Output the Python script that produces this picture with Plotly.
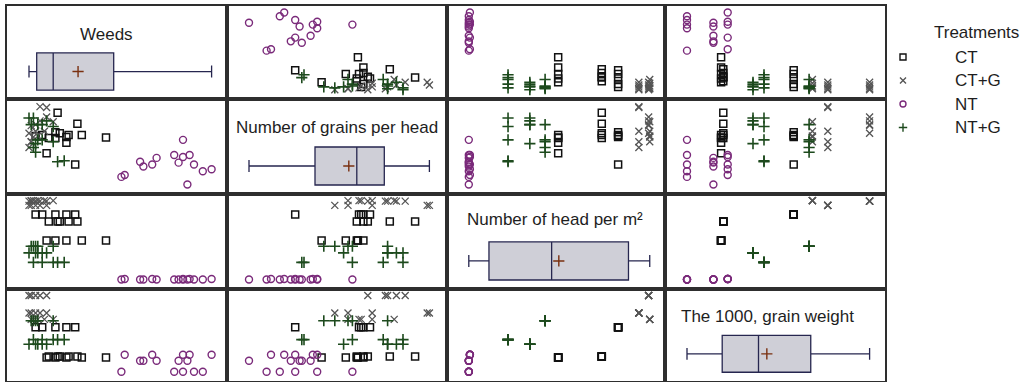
import numpy as np
import plotly.graph_objects as go

TREATMENTS = ["CT", "CT+G", "NT", "NT+G"]
VARIABLES = ["Weeds", "Number of grains per head", "Number of head per m²", "The 1000, grain weight"]
SAMPLES_PER_PLOT = 5

# Sample-level measurements: 3 plots per treatment, 5 samples per plot
WEEDS_CT = [62, 54, 44, 32, 26, 90, 36, 68, 54, 44, 64, 46, 56, 38, 48]
WEEDS_CTG = [36, 30, 26, 22, 20, 30, 36, 26, 22, 20, 42, 34, 28, 24, 22]
WEEDS_NT = [160, 152, 170, 178, 104, 164, 156, 124, 121, 136, 186, 166, 160, 132, 107]
WEEDS_NTG = [26, 24, 42, 28, 22, 52, 46, 32, 42, 24, 26, 36, 32, 20, 28]

GRAINS_CT = [32.4, 44.0, 46.0, 44.8, 44.4, 43.8, 37.2, 44.8, 41.6, 43.6, 49.6, 54.2, 44.8, 43.6, 45.6]
GRAINS_CTG = [52.4, 50.8, 49.2, 48.8, 45.6, 56.8, 56.4, 46.4, 42.0, 39.6, 50.4, 46.4, 44.4, 44.0, 42.0]
GRAINS_NT = [42.8, 36.4, 32.4, 29.6, 27.2, 24.0, 33.2, 31.6, 33.6, 35.2, 30.4, 36.4, 35.6, 32.4, 28.0]
GRAINS_NTG = [37.6, 39.6, 42.0, 42.8, 49.2, 34.0, 33.6, 42.8, 48.4, 52.0, 41.2, 50.8, 49.2, 52.0, 49.2]

# Plot-level measurements (one value per plot)
HEADS_CT = [514, 404, 484]
HEADS_CTG = [570, 552, 572]
HEADS_NT = [240, 240, 242]
HEADS_NTG = [380, 312, 352]

TGW_CT = [41.7, 35.1, 35.3]
TGW_CTG = [48.6, 44.8, 43.4]
TGW_NT = [32.0, 34.4, 35.7]
TGW_NTG = [43.1, 39.0, 38.0]

AXIS_RANGES = [[0, 200], [20, 60], [200, 600], [30, 50]]

weeds = [WEEDS_CT, WEEDS_CTG, WEEDS_NT, WEEDS_NTG]
grains = [GRAINS_CT, GRAINS_CTG, GRAINS_NT, GRAINS_NTG]
heads = [np.repeat(h, SAMPLES_PER_PLOT) for h in (HEADS_CT, HEADS_CTG, HEADS_NT, HEADS_NTG)]
tgw = [np.repeat(t, SAMPLES_PER_PLOT) for t in (TGW_CT, TGW_CTG, TGW_NT, TGW_NTG)]
columns = [weeds, grains, heads, tgw]

MARKER_STYLE = {
    "CT": dict(symbol="square-open", size=7, color="#111111", line=dict(width=1.5)),
    "CT+G": dict(symbol="x-thin-open", size=7, color="#555555", line=dict(width=1.3)),
    "NT": dict(symbol="circle-open", size=7, color="#7a2a7a", line=dict(width=1.4)),
    "NT+G": dict(symbol="cross-thin-open", size=8, color="#1d4a1d", line=dict(width=1.6)),
}

# Page geometry (pixels)
FIG_W, FIG_H = 1031, 382
ML, MR, MT, MB = 7, 0, 6, 1
PW, PH = FIG_W - ML - MR, FIG_H - MT - MB
COL_EDGES = [7, 227, 447, 665, 885]
ROW_EDGES = [6, 99, 194, 289, 381]


def fx(px):
    return (px - ML) / PW


def fy(py):
    return (FIG_H - MB - py) / PH


BORDER = dict(showline=True, mirror=True, linecolor="#2e2e2e", linewidth=2,
              showgrid=False, zeroline=False, showticklabels=False, ticks="",
              fixedrange=True)

fig = go.Figure()
layout_axes = {}
annotations = []

TITLE_X = [106, 337, 555, 767]
TITLE_Y = [34, 127, 219, 316]
BOX_POS = 0.295
TEXT_FONT = dict(family="Liberation Sans, Arial", size=17, color="#1e1e1e")

for r in range(4):
    for c in range(4):
        n = r * 4 + c + 1
        xname = "xaxis" if n == 1 else f"xaxis{n}"
        yname = "yaxis" if n == 1 else f"yaxis{n}"
        xref = "x" if n == 1 else f"x{n}"
        yref = "y" if n == 1 else f"y{n}"
        layout_axes[xname] = dict(BORDER, domain=[fx(COL_EDGES[c]), fx(COL_EDGES[c + 1])],
                                  range=AXIS_RANGES[c], anchor=yref, type="linear")
        if r == c:
            # Diagonal: box plot of the variable with its mean
            layout_axes[yname] = dict(BORDER, domain=[fy(ROW_EDGES[r + 1]), fy(ROW_EDGES[r])],
                                      range=[0, 1], anchor=xref, type="linear")
            values = np.concatenate([np.asarray(v, dtype=float) for v in columns[c]])
            q1, med, q3 = np.percentile(values, [25, 50, 75], method="averaged_inverted_cdf")
            fig.add_trace(go.Box(
                orientation="h", y=[BOX_POS], q1=[q1], median=[med], q3=[q3],
                lowerfence=[values.min()], upperfence=[values.max()],
                width=0.40, whiskerwidth=0.32, boxpoints=False,
                fillcolor="#cfcfd7", line=dict(color="#26264f", width=1.3),
                xaxis=xref, yaxis=yref, showlegend=False, hoverinfo="skip"))
            fig.add_trace(go.Scatter(
                x=[values.mean()], y=[BOX_POS], mode="markers",
                marker=dict(symbol="cross-thin-open", size=8, color="#7a3010", line=dict(width=1.4)),
                xaxis=xref, yaxis=yref, showlegend=False, hoverinfo="skip"))
            annotations.append(dict(
                text=VARIABLES[c], x=fx(TITLE_X[c]), y=fy(TITLE_Y[r]),
                xref="paper", yref="paper", xanchor="center", yanchor="middle",
                showarrow=False, font=TEXT_FONT))
        else:
            # Off-diagonal: row variable against column variable, one trace per treatment
            layout_axes[yname] = dict(BORDER, domain=[fy(ROW_EDGES[r + 1]), fy(ROW_EDGES[r])],
                                      range=AXIS_RANGES[r], anchor=xref, type="linear")
            for t, name in enumerate(TREATMENTS):
                fig.add_trace(go.Scatter(
                    x=columns[c][t], y=columns[r][t], mode="markers",
                    marker=MARKER_STYLE[name], xaxis=xref, yaxis=yref,
                    showlegend=False, hoverinfo="skip"))

# Legend panel: glyphs and labels on their own axis
LEG_TOP, LEG_STEP = 57, 23.5
leg_y0 = LEG_TOP - 0.5 * LEG_STEP
leg_y1 = leg_y0 + len(TREATMENTS) * LEG_STEP
layout_axes["xaxis17"] = dict(domain=[fx(895), 1.0], range=[-0.16, 2.56], visible=False,
                              anchor="y17", fixedrange=True)
layout_axes["yaxis17"] = dict(domain=[fy(leg_y1), fy(leg_y0)], range=[len(TREATMENTS) - 0.5, -0.5],
                              visible=False, anchor="x17", type="category",
                              categoryorder="array", categoryarray=TREATMENTS, fixedrange=True)
fig.add_trace(go.Scatter(
    x=[0] * len(TREATMENTS), y=TREATMENTS, mode="markers",
    marker=dict(symbol=[MARKER_STYLE[t]["symbol"] for t in TREATMENTS],
                color=[MARKER_STYLE[t]["color"] for t in TREATMENTS],
                size=6, line=dict(width=1.4)),
    xaxis="x17", yaxis="y17", showlegend=False, hoverinfo="skip"))
for t in TREATMENTS:
    annotations.append(dict(text=t, x=1, y=t, xref="x17", yref="y17", xanchor="left",
                            yanchor="middle", showarrow=False, font=TEXT_FONT))
annotations.append(dict(text="Treatments", x=fx(976), y=fy(32), xref="paper", yref="paper",
                        xanchor="center", yanchor="middle", showarrow=False, font=TEXT_FONT))

fig.update_layout(
    width=FIG_W, height=FIG_H,
    margin=dict(l=ML, r=MR, t=MT, b=MB, pad=0),
    paper_bgcolor="white", plot_bgcolor="white",
    showlegend=False, annotations=annotations,
    **layout_axes)

fig.write_html("out.html", config={"displayModeBar": False})
